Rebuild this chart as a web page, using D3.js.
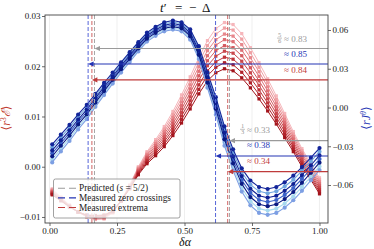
<!DOCTYPE html>
<html><head><meta charset="utf-8">
<script src="https://cdn.jsdelivr.net/npm/d3@7"></script>
<style>body{margin:0;background:#fff}svg{display:block;font-family:"Liberation Serif","DejaVu Serif",serif}</style>
</head><body><svg id="c" width="374" height="249"></svg>
<script>
// ---- data ----
const dAlpha = [0.010,0.042,0.074,0.106,0.138,0.170,0.202,0.234,0.265,0.297,0.329,0.361,0.393,0.425,0.457,0.489,
                0.521,0.553,0.585,0.616,0.648,0.680,0.712,0.744,0.776,0.808,0.840,0.871,0.903,0.935,0.968,1.000];

// <r J^theta> (right axis), top-to-bottom members of the blue family
const blue0 = [-0.0285,-0.0210,-0.0135,-0.0054,0.0020,0.0105,0.0190,0.0271,0.0350,0.0428,0.0506,0.0580,0.0625,0.0660,0.0673,0.0660,
               0.0605,0.0475,0.0273,0.0080,-0.0146,-0.0324,-0.0471,-0.0565,-0.0616,-0.0631,-0.0616,-0.0579,-0.0528,-0.0461,-0.0388,-0.0314];
const blue1 = [-0.0308,-0.0231,-0.0155,-0.0073,0.0002,0.0089,0.0174,0.0257,0.0337,0.0415,0.0494,0.0568,0.0613,0.0648,0.0661,0.0648,
               0.0592,0.0459,0.0253,0.0058,-0.0171,-0.0351,-0.0501,-0.0597,-0.0649,-0.0664,-0.0649,-0.0611,-0.0559,-0.0491,-0.0417,-0.0342];
const blue2 = [-0.0332,-0.0254,-0.0177,-0.0093,-0.0017,0.0072,0.0159,0.0242,0.0323,0.0403,0.0482,0.0557,0.0602,0.0637,0.0650,0.0637,
               0.0578,0.0442,0.0233,0.0034,-0.0196,-0.0379,-0.0531,-0.0629,-0.0683,-0.0698,-0.0683,-0.0645,-0.0592,-0.0523,-0.0447,-0.0371];
const blue3 = [-0.0355,-0.0275,-0.0197,-0.0112,-0.0035,0.0055,0.0143,0.0228,0.0310,0.0390,0.0470,0.0545,0.0590,0.0625,0.0638,0.0625,
               0.0565,0.0425,0.0213,0.0012,-0.0221,-0.0406,-0.0561,-0.0661,-0.0716,-0.0731,-0.0716,-0.0677,-0.0623,-0.0553,-0.0476,-0.0399];
const blue4 = [-0.0378,-0.0296,-0.0217,-0.0131,-0.0053,0.0038,0.0127,0.0214,0.0297,0.0377,0.0458,0.0533,0.0578,0.0613,0.0626,0.0613,
               0.0552,0.0408,0.0193,-0.0010,-0.0246,-0.0433,-0.0591,-0.0693,-0.0749,-0.0764,-0.0749,-0.0709,-0.0654,-0.0583,-0.0505,-0.0427];
const blue5 = [-0.0402,-0.0319,-0.0239,-0.0151,-0.0072,0.0021,0.0112,0.0199,0.0283,0.0365,0.0446,0.0522,0.0567,0.0602,0.0615,0.0602,
               0.0538,0.0391,0.0173,-0.0034,-0.0271,-0.0461,-0.0621,-0.0725,-0.0783,-0.0798,-0.0783,-0.0743,-0.0687,-0.0615,-0.0535,-0.0456];
const blue6 = [-0.0425,-0.0340,-0.0259,-0.0170,-0.0090,0.0005,0.0096,0.0185,0.0270,0.0352,0.0434,0.0510,0.0555,0.0590,0.0603,0.0590,
               0.0525,0.0375,0.0153,-0.0056,-0.0296,-0.0488,-0.0651,-0.0757,-0.0816,-0.0831,-0.0816,-0.0775,-0.0718,-0.0645,-0.0564,-0.0484];
const blueSeries = [blue0,blue1,blue2,blue3,blue4,blue5,blue6];
const blueColors = ["#13259a","#6fa6e0","#0e2093","#3a62c8","#0a1a82","#a6d9ee","#7d9fe3"];
const blueOrder  = [5,6,1,3,0,2,4];

// <r^3 E> (left axis), darkest (smallest peak) to lightest (largest peak)
const red0 = [-0.0056,-0.0068,-0.0080,-0.0090,-0.0096,-0.0097,-0.0096,-0.0088,-0.0068,-0.0044,-0.0016,0.0006,0.0022,0.0040,0.0062,0.0087,
              0.0115,0.0145,0.0171,0.0187,0.0195,0.0191,0.0177,0.0157,0.0135,0.0111,0.0085,0.0058,0.0030,0.0000,-0.0026,-0.0054];
const red1 = [-0.0055,-0.0067,-0.0080,-0.0090,-0.0097,-0.0098,-0.0097,-0.0089,-0.0068,-0.0043,-0.0014,0.0009,0.0026,0.0045,0.0068,0.0094,
              0.0123,0.0154,0.0181,0.0198,0.0207,0.0203,0.0188,0.0167,0.0144,0.0119,0.0092,0.0064,0.0035,0.0005,-0.0022,-0.0050];
const red2 = [-0.0053,-0.0066,-0.0079,-0.0090,-0.0097,-0.0099,-0.0098,-0.0089,-0.0068,-0.0042,-0.0012,0.0012,0.0030,0.0050,0.0074,0.0101,
              0.0131,0.0163,0.0191,0.0209,0.0218,0.0214,0.0199,0.0177,0.0153,0.0127,0.0099,0.0070,0.0040,0.0009,-0.0018,-0.0046];
const red3 = [-0.0052,-0.0065,-0.0079,-0.0090,-0.0098,-0.0100,-0.0099,-0.0090,-0.0068,-0.0041,-0.0010,0.0015,0.0034,0.0055,0.0080,0.0108,
              0.0139,0.0172,0.0201,0.0220,0.0230,0.0226,0.0210,0.0187,0.0162,0.0135,0.0106,0.0076,0.0045,0.0014,-0.0014,-0.0042];
const red4 = [-0.0050,-0.0064,-0.0078,-0.0090,-0.0098,-0.0101,-0.0100,-0.0090,-0.0068,-0.0040,-0.0008,0.0018,0.0038,0.0060,0.0086,0.0115,
              0.0147,0.0181,0.0211,0.0231,0.0241,0.0237,0.0221,0.0197,0.0171,0.0143,0.0113,0.0082,0.0050,0.0018,-0.0010,-0.0038];
const red5 = [-0.0049,-0.0063,-0.0078,-0.0090,-0.0099,-0.0102,-0.0101,-0.0091,-0.0068,-0.0039,-0.0006,0.0021,0.0042,0.0065,0.0092,0.0122,
              0.0155,0.0190,0.0221,0.0242,0.0253,0.0249,0.0232,0.0207,0.0180,0.0151,0.0120,0.0088,0.0055,0.0023,-0.0006,-0.0034];
const red6 = [-0.0047,-0.0062,-0.0077,-0.0090,-0.0099,-0.0103,-0.0102,-0.0091,-0.0068,-0.0038,-0.0004,0.0024,0.0046,0.0070,0.0098,0.0129,
              0.0163,0.0199,0.0231,0.0253,0.0264,0.0260,0.0243,0.0217,0.0189,0.0159,0.0127,0.0094,0.0060,0.0027,-0.0002,-0.0030];
const red7 = [-0.0046,-0.0061,-0.0077,-0.0090,-0.0100,-0.0104,-0.0103,-0.0092,-0.0068,-0.0037,-0.0002,0.0027,0.0050,0.0075,0.0104,0.0136,
              0.0171,0.0208,0.0241,0.0264,0.0276,0.0272,0.0254,0.0227,0.0198,0.0167,0.0134,0.0100,0.0065,0.0032,0.0002,-0.0026];
const red8 = [-0.0044,-0.0060,-0.0076,-0.0090,-0.0100,-0.0105,-0.0104,-0.0092,-0.0068,-0.0036,0.0000,0.0030,0.0054,0.0080,0.0110,0.0143,
              0.0179,0.0217,0.0251,0.0275,0.0287,0.0283,0.0265,0.0237,0.0207,0.0175,0.0141,0.0106,0.0070,0.0036,0.0006,-0.0022];
const redSeries = [red0,red1,red2,red3,red4,red5,red6,red7,red8];
const redColors = ["#a3141c","#b1222a","#be3339","#c9474c","#d45a60","#de6f75","#e7868b","#efa0a4","#f6b6bb"];
const redOrder  = [8,7,6,5,4,3,2,1,0];

const xTicks = [0, 0.25, 0.5, 0.75, 1];
const leftTicks = [-0.01, 0, 0.01, 0.02, 0.03];
const rightTicks = [-0.06, -0.03, 0, 0.03, 0.06];

const predicted = [1/6, 2/3];
const zeroCrossings = [0.143, 0.615];
const extrema = [0.157, 0.660];

// horizontal arrow levels (left-axis units) and their labels
const arrowLevels = [0.02353, 0.02045, 0.01727, 0.00518, 0.00214, -0.00099];
const arrowTargets = [1/6, 0.143, 0.157, 2/3, 0.615, 0.660];
const arrowKinds = ["pred","zero","ext","pred","zero","ext"];
const arrowFrac = ["5/6", null, null, "1/3", null, null];
const arrowLabels = ["≈ 0.83","≈ 0.85","≈ 0.84","≈ 0.33","≈ 0.38","≈ 0.34"];

const legendLabels = ["Predicted", "Measured zero crossings", "Measured extrema"];

// ---- drawing ----
const L=45, R=328, T=15, B=223;
const svg = d3.select("#c");
const x = d3.scaleLinear().domain([-0.0167, 1.0315]).range([L, R]);
const yL = d3.scaleLinear().domain([-0.0112, 0.0302]).range([B, T]);
const yR = d3.scaleLinear().domain([-0.0894, 0.0716]).range([B, T]);

const kindColor = {pred:"#9a9a9a", zero:"#2434b4", ext:"#bf3b3b"};
const dashColor = {pred:"#a8a8a8", zero:"#5565d8", ext:"#d06464"};

// grid
svg.append("g").selectAll("line").data(xTicks).join("line")
  .attr("x1", d=>x(d)).attr("x2", d=>x(d)).attr("y1", T).attr("y2", B)
  .attr("stroke", "#ebebeb").attr("stroke-width", 0.8);

svg.append("clipPath").attr("id","pc").append("rect")
  .attr("x", L).attr("y", T).attr("width", R-L).attr("height", B-T);
const plot = svg.append("g").attr("clip-path","url(#pc)");

// red family
const redLine = d3.line().x((d,i)=>x(dAlpha[i])).y(d=>yL(d));
redOrder.forEach(i=>{
  const g = plot.append("g");
  g.append("path").attr("d", redLine(redSeries[i])).attr("fill","none")
    .attr("stroke", redColors[i]).attr("stroke-width", 1);
  g.selectAll("rect").data(redSeries[i]).join("rect")
    .attr("x",(d,k)=>x(dAlpha[k])-1.6).attr("y",d=>yL(d)-1.6)
    .attr("width",3.2).attr("height",3.2).attr("fill",redColors[i]);
});

// blue family
const blueLine = d3.line().x((d,i)=>x(dAlpha[i])).y(d=>yR(d));
blueOrder.forEach(i=>{
  const g = plot.append("g");
  g.append("path").attr("d", blueLine(blueSeries[i])).attr("fill","none")
    .attr("stroke", blueColors[i]).attr("stroke-width", 1.1);
  g.selectAll("circle").data(blueSeries[i]).join("circle")
    .attr("cx",(d,k)=>x(dAlpha[k])).attr("cy",d=>yR(d)).attr("r",2.1)
    .attr("fill",blueColors[i]);
});

// vertical dashed lines
[["zero",zeroCrossings],["ext",extrema],["pred",predicted]].forEach(([k,arr])=>{
  plot.append("g").selectAll("line").data(arr).join("line")
    .attr("x1",d=>x(d)).attr("x2",d=>x(d)).attr("y1",T).attr("y2",B)
    .attr("stroke",dashColor[k]).attr("stroke-width",1).attr("stroke-dasharray","4,2");
});

// arrows
arrowLevels.forEach((lv,i)=>{
  const y = yL(lv), tip = x(arrowTargets[i]), c = kindColor[arrowKinds[i]];
  plot.append("line").attr("x1",R).attr("x2",tip+4).attr("y1",y).attr("y2",y)
    .attr("stroke",c).attr("stroke-width",1.2);
  plot.append("path").attr("d",`M${tip},${y}L${tip+5.5},${y-2.6}L${tip+5.5},${y+2.6}Z`).attr("fill",c);
  const upper = i < 3;
  const tx = upper ? 284 : 247;
  const ty = y - (upper ? 6.5 : 7.5);
  svg.append("text").attr("x",tx).attr("y",ty).attr("font-size",9).attr("fill",c).text(arrowLabels[i]);
  if (arrowFrac[i]) {
    const [n,dn] = arrowFrac[i].split("/");
    const fx = tx - 4.5;
    svg.append("text").attr("x",fx).attr("y",ty-5.3).attr("font-size",6.5).attr("fill",c).attr("text-anchor","middle").text(n);
    svg.append("line").attr("x1",fx-2.5).attr("x2",fx+2.5).attr("y1",ty-3.9).attr("y2",ty-3.9).attr("stroke",c).attr("stroke-width",0.6);
    svg.append("text").attr("x",fx).attr("y",ty+1.2).attr("font-size",6.5).attr("fill",c).attr("text-anchor","middle").text(dn);
  }
});

// frame
svg.append("rect").attr("x",L).attr("y",T).attr("width",R-L).attr("height",B-T)
  .attr("fill","none").attr("stroke","#444").attr("stroke-width",0.9);

// axes
const fmt = d3.format(".2f");
function styleAxis(g){
  g.select(".domain").remove();
  g.selectAll(".tick line").attr("stroke","#444").attr("stroke-width",0.8);
  g.selectAll(".tick text").attr("font-size",9).attr("fill","#222").attr("font-family","Liberation Serif, serif");
}
svg.append("g").attr("transform",`translate(${L},0)`)
  .call(d3.axisLeft(yL).tickValues(leftTicks).tickSize(3).tickPadding(1.5).tickFormat(fmt)).call(styleAxis);
svg.append("g").attr("transform",`translate(${R},0)`)
  .call(d3.axisRight(yR).tickValues(rightTicks).tickSize(3).tickPadding(1.5).tickFormat(fmt)).call(styleAxis);
svg.append("g").attr("transform",`translate(0,${B})`)
  .call(d3.axisBottom(x).tickValues(xTicks).tickSize(3).tickPadding(1.5).tickFormat(fmt)).call(styleAxis);

// title
const title = svg.append("text").attr("y",12).attr("font-size",13).attr("fill","#111");
title.append("tspan").attr("x",160).attr("font-style","italic").text("t");
title.append("tspan").text("′");
title.append("tspan").attr("x",175).text("=");
title.append("tspan").attr("x",189).text("−");
title.append("tspan").attr("x",202).text("Δ");

// x label
svg.append("text").attr("x",185).attr("y",246).attr("text-anchor","middle")
  .attr("font-size",12).attr("font-style","italic").attr("fill","#111").text("δα");

// y labels
const ly = svg.append("text").attr("transform","translate(10,118) rotate(-90)")
  .attr("text-anchor","middle").attr("font-size",12).attr("fill","#c0392b");
ly.append("tspan").text("⟨");
ly.append("tspan").attr("font-style","italic").text("r");
ly.append("tspan").attr("font-size",8).attr("dy",-4).text("3");
ly.append("tspan").attr("dy",4).attr("font-style","italic").text("ℰ");
ly.append("tspan").text("⟩");

const ry = svg.append("text").attr("transform","translate(370,118) rotate(-90)")
  .attr("text-anchor","middle").attr("font-size",12).attr("fill","#2434b4");
ry.append("tspan").text("⟨");
ry.append("tspan").attr("font-style","italic").text("rJ");
ry.append("tspan").attr("font-size",8).attr("dy",-4).attr("font-style","italic").text("θ");
ry.append("tspan").attr("dy",4).text("⟩");

// legend
const lg = svg.append("g");
lg.append("rect").attr("x",53.5).attr("y",179).attr("width",126.5).attr("height",39).attr("rx",2)
  .attr("fill","#fff").attr("fill-opacity",0.82).attr("stroke","#8a8a8a").attr("stroke-width",0.8);
const kinds = ["pred","zero","ext"];
kinds.forEach((k,i)=>{
  const cy = 188.3 + i*9.6;
  lg.append("line").attr("x1",58).attr("x2",76).attr("y1",cy).attr("y2",cy)
    .attr("stroke",kindColor[k]).attr("stroke-width",1.1).attr("stroke-dasharray","7,4");
  const t = lg.append("text").attr("x",79).attr("y",cy+3).attr("font-size",9.3).attr("fill","#222");
  t.append("tspan").text(legendLabels[i]);
  if (k==="pred") {
    t.append("tspan").text(" (");
    t.append("tspan").attr("font-style","italic").text("s");
    t.append("tspan").text(" = 5/2)");
  }
});
</script></body></html>
